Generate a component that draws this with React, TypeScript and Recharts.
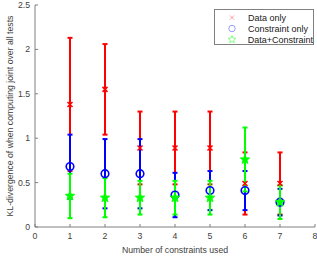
import React from "react"
import { ComposedChart, Scatter, ErrorBar, XAxis, YAxis, Legend, Label } from "recharts"

// number of constraints on the x axis
const constraintCounts = [1, 2, 3, 4, 5, 6, 7]

const dataOnlyMean = [1.38, 1.55, 0.89, 0.89, 0.89, 0.49, 0.49]
const dataOnlyErr = [0.75, 0.51, 0.41, 0.41, 0.41, 0.35, 0.35]

const constraintOnlyMean = [0.68, 0.6, 0.6, 0.36, 0.41, 0.41, 0.28]
const constraintOnlyErr = [0.36, 0.39, 0.39, 0.25, 0.22, 0.22, 0.15]

const bothMean = [0.35, 0.33, 0.33, 0.33, 0.33, 0.76, 0.28]
const bothErr = [0.25, 0.22, 0.19, 0.19, 0.19, 0.36, 0.19]

const xTicks = [0, 1, 2, 3, 4, 5, 6, 7, 8]
const yTicks = [0, 0.5, 1, 1.5, 2, 2.5]

const seriesNames = ["Data only", "Constraint only", "Data+Constraint"]

const AXIS = "#808080"
const TEXT = "#404040"
const FONT = "'Liberation Sans', Arial, sans-serif"

const build = (mean: number[], err: number[]) =>
  constraintCounts.map((x, i) => ({ x, y: mean[i], err: err[i] }))

const dataOnly = build(dataOnlyMean, dataOnlyErr)
const constraintOnly = build(constraintOnlyMean, constraintOnlyErr)
const both = build(bothMean, bothErr)

function starPath(cx: number, cy: number, R: number) {
  const r = R * 0.45
  let d = ""
  for (let i = 0; i < 10; i++) {
    const rad = i % 2 === 0 ? R : r
    const a = -Math.PI / 2 + (i * Math.PI) / 5
    d += (i === 0 ? "M" : "L") + (cx + rad * Math.cos(a)).toFixed(2) + "," + (cy + rad * Math.sin(a)).toFixed(2)
  }
  return d + "Z"
}

const Cross = ({ cx, cy, color = "#ff0000", s = 2.5, w = 1.5 }: any) => (
  <path d={`M${cx - s},${cy - s}L${cx + s},${cy + s}M${cx - s},${cy + s}L${cx + s},${cy - s}`} stroke={color} strokeWidth={w} fill="none" />
)
const Ring = ({ cx, cy, color = "#0000ff", r = 3.8, w = 1.6 }: any) => (
  <circle cx={cx} cy={cy} r={r} stroke={color} strokeWidth={w} fill="none" />
)
const Star = ({ cx, cy, color = "#00ff00", R = 5, stroke = "#00ff00" }: any) => (
  <path d={starPath(cx, cy, R)} fill={color} stroke={stroke} strokeWidth={0.8} />
)

// ticks drawn inside the box, MATLAB style
const BottomTick = ({ x, y, payload }: any) => (
  <g>
    <line x1={x} y1={y} x2={x} y2={y - 3} stroke={AXIS} />
    <text x={x} y={y + 12} textAnchor="middle" fontSize={8.7} fill={TEXT} fontFamily={FONT}>
      {payload.value}
    </text>
  </g>
)
const LeftTick = ({ x, y, payload }: any) => (
  <g>
    <line x1={x} y1={y} x2={x + 3} y2={y} stroke={AXIS} />
    <text x={x - 5} y={y + 3} textAnchor="end" fontSize={8.7} fill={TEXT} fontFamily={FONT}>
      {payload.value}
    </text>
  </g>
)
const TopTick = ({ x, y }: any) => <line x1={x} y1={y} x2={x} y2={y + 3} stroke={AXIS} />
const RightTick = ({ x, y }: any) => <line x1={x} y1={y} x2={x - 3} y2={y} stroke={AXIS} />

const LegendBox = () => (
  <div
    style={{
      border: `1px solid ${AXIS}`,
      background: "#fff",
      width: 100,
      height: 36,
      boxSizing: "border-box",
      fontFamily: FONT,
      fontSize: 9,
      color: "#202020",
      paddingTop: 2,
    }}
  >
    {seriesNames.map((name, i) => (
      <div key={name} style={{ display: "flex", alignItems: "center", height: 11 }}>
        <svg width={33} height={11}>
          {i === 0 && <Cross cx={17} cy={5.5} color="#ff9999" s={2} w={1} />}
          {i === 1 && <Ring cx={17} cy={5.5} color="#9999ff" r={3.2} w={1} />}
          {i === 2 && <Star cx={17} cy={5.5} color="none" stroke="#66ff66" R={4} />}
        </svg>
        <span>{name}</span>
      </div>
    ))}
  </div>
)

export default function App() {
  return (
    <div style={{ position: "absolute", left: 0, top: 0, width: 317, height: 260, background: "#fff" }}>
      <ComposedChart width={317} height={260} margin={{ top: 5, right: 2, bottom: 5, left: 5 }}>
        <XAxis
          xAxisId={0}
          dataKey="x"
          type="number"
          domain={[0, 8]}
          ticks={xTicks}
          tick={<BottomTick />}
          tickSize={0}
          tickMargin={0}
          tickLine={false}
          stroke={AXIS}
          height={28}
          interval={0}
          allowDataOverflow
        >
          <Label value="Number of constraints used" position="insideBottom" offset={2} fontSize={8.7} fill={TEXT} fontFamily={FONT} />
        </XAxis>
        <XAxis
          xAxisId="top"
          orientation="top"
          type="number"
          domain={[0, 8]}
          ticks={xTicks}
          tick={<TopTick />}
          tickSize={0}
          tickMargin={0}
          tickLine={false}
          stroke={AXIS}
          height={0}
          interval={0}
          allowDataOverflow
        />
        <YAxis
          yAxisId={0}
          type="number"
          domain={[0, 2.5]}
          ticks={yTicks}
          tick={<LeftTick />}
          tickSize={0}
          tickMargin={0}
          tickLine={false}
          stroke={AXIS}
          width={30}
          interval={0}
          allowDataOverflow
        >
          <Label
            value="KL-divergence of when computing joint over all tests"
            angle={-90}
            position="insideLeft"
            offset={5}
            fontSize={8.7}
            fill={TEXT}
            fontFamily={FONT}
            style={{ textAnchor: "middle" }}
          />
        </YAxis>
        <YAxis
          yAxisId="right"
          orientation="right"
          type="number"
          domain={[0, 2.5]}
          ticks={yTicks}
          tick={<RightTick />}
          tickSize={0}
          tickMargin={0}
          tickLine={false}
          stroke={AXIS}
          width={0}
          interval={0}
          allowDataOverflow
        />
        <Scatter name={seriesNames[0]} data={dataOnly} dataKey="y" isAnimationActive={false} shape={(p: any) => <Cross cx={p.cx} cy={p.cy} />}>
          <ErrorBar dataKey="err" direction="y" width={2.5} stroke="#ff0000" strokeWidth={2} isAnimationActive={false} />
        </Scatter>
        <Scatter name={seriesNames[1]} data={constraintOnly} dataKey="y" isAnimationActive={false} shape={(p: any) => <Ring cx={p.cx} cy={p.cy} />}>
          <ErrorBar dataKey="err" direction="y" width={2.5} stroke="#0000ff" strokeWidth={2} isAnimationActive={false} />
        </Scatter>
        <Scatter name={seriesNames[2]} data={both} dataKey="y" isAnimationActive={false} shape={(p: any) => <Star cx={p.cx} cy={p.cy} />}>
          <ErrorBar dataKey="err" direction="y" width={2.5} stroke="#00ff00" strokeWidth={2} isAnimationActive={false} />
        </Scatter>
        <Legend
          layout="vertical"
          align="center"
          verticalAlign="middle"
          content={<LegendBox />}
          wrapperStyle={{ position: "absolute", top: 9, left: 214, width: 100, height: 36 }}
        />
      </ComposedChart>
    </div>
  )
}
